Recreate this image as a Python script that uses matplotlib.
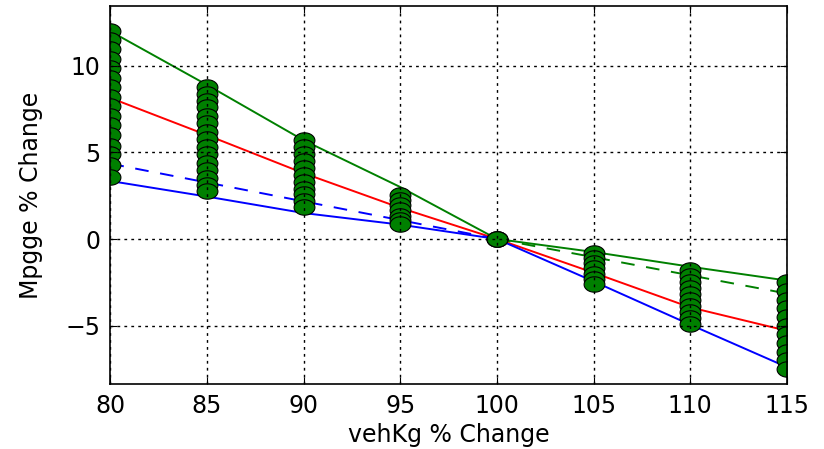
import numpy as np
import matplotlib
matplotlib.use('Agg')
import matplotlib.pyplot as plt
from matplotlib.path import Path

veh_kg = [80, 85, 90, 95, 100, 105, 110, 115]

# scatter of all runs, per vehKg step
pts_80 = [12.0, 11.5, 11.0, 10.4, 9.9, 9.3, 8.8, 8.2, 7.7, 7.1, 6.6, 6.0, 5.4, 4.9, 4.3, 3.6]
pts_85 = [8.8, 8.4, 8.0, 7.6, 7.1, 6.7, 6.2, 5.8, 5.3, 4.9, 4.4, 4.0, 3.5, 3.1, 2.8]
pts_90 = [5.7, 5.3, 4.9, 4.5, 4.1, 3.7, 3.3, 2.9, 2.6, 2.2, 1.85]
pts_95 = [2.55, 2.25, 1.95, 1.65, 1.35, 1.1, 0.85]
pts_100 = [0.0, 0.0, 0.0]
pts_105 = [-0.8, -1.1, -1.4, -1.7, -2.0, -2.3, -2.6]
pts_110 = [-1.8, -2.15, -2.5, -2.85, -3.2, -3.5, -3.85, -4.2, -4.55, -4.9]
pts_115 = [-2.5, -3.0, -3.5, -4.0, -4.5, -5.0, -5.5, -6.0, -6.5, -7.0, -7.5]

green_line = [12.0, 8.9, 5.7, 3.0, 0.0, -0.75, -1.6, -2.4]
red_line = [8.15, 6.0, 3.8, 1.8, 0.0, -1.95, -3.95, -5.3]
blue_line = [3.35, 2.45, 1.5, 0.83, 0.0, -2.45, -4.95, -7.4]

blue_dash_x = [80, 100]
blue_dash_y = [4.35, 0.0]
green_dash_x = [100, 115]
green_dash_y = [0.0, -3.15]

# the reference looks stretched sideways, so use a wide ellipse marker
t = np.linspace(0, 2 * np.pi, 40)
ellipse = Path(np.column_stack([1.35 * np.cos(t), np.sin(t)]), closed=True)

fig = plt.figure(figsize=(8.24, 4.49), dpi=100)
ax = fig.add_axes([0.134, 0.145, 0.821, 0.8416])

ax.plot(veh_kg, green_line, color=(0, 0.5, 0), lw=1.4)
ax.plot(veh_kg, red_line, color='r', lw=1.4)
ax.plot(veh_kg, blue_line, color='b', lw=1.4)
ax.plot(blue_dash_x, blue_dash_y, color='b', lw=1.4, dashes=(7, 6))
ax.plot(green_dash_x, green_dash_y, color=(0, 0.5, 0), lw=1.4, dashes=(7, 6))

groups = [pts_80, pts_85, pts_90, pts_95, pts_100, pts_105, pts_110, pts_115]
for x, ys in zip(veh_kg, groups):
    ax.plot([x] * len(ys), ys, ls='none', marker=ellipse, color=(0, 0.5, 0),
            mec='k', mew=0.8, ms=15)

ax.set_xlim(80, 115)
ax.set_ylim(-8.37, 13.46)
ax.set_xticks(veh_kg)
ax.set_yticks([-5, 0, 5, 10])
ax.set_yticklabels(['\u22125', '0', '5', '10'])

ax.set_axisbelow(False)
ax.grid(True, color='k', linestyle=(0, (2, 3)), lw=1)
ax.tick_params(direction='in', top=True, right=True, length=5, labelsize=17, pad=7)
for s in ax.spines.values():
    s.set_linewidth(1.2)

ax.set_xlabel('vehKg % Change', fontsize=17, labelpad=4)
ax.set_ylabel('Mpgge % Change', fontsize=17, labelpad=16)

fig.savefig('out.png', dpi=100)
